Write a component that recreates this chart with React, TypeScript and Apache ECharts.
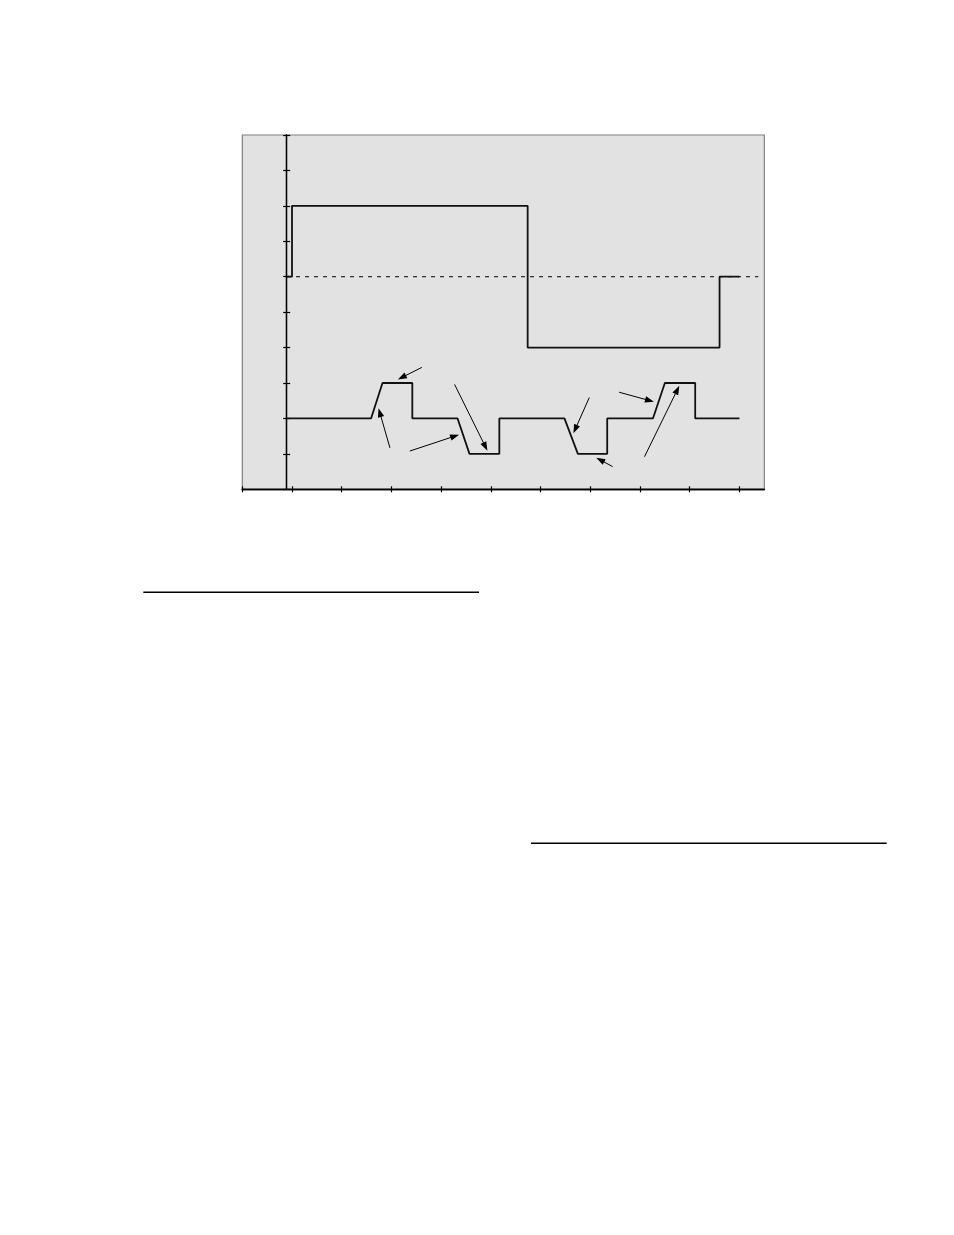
import React, { useEffect, useRef } from "react";
import * as echarts from "echarts";

// Tick values (both axes run 0..10, one unit per tick)
const xTicks = [0, 1, 2, 3, 4, 5, 6, 7, 8, 9, 10];
const yTicks = [0, 1, 2, 3, 4, 5, 6, 7, 8, 9, 10];

// Upper step trace [x, y]
const upperTrace: number[][] = [
  [0.9, 6], [1.0, 6], [1.0, 8], [5.74, 8], [5.74, 4],
  [9.6, 4], [9.6, 6], [10.0, 6],
];

// Lower trace with ramps [x, y]
const lowerTrace: number[][] = [
  [0.9, 2], [2.59, 2], [2.82, 3], [3.42, 3], [3.42, 2],
  [4.33, 2], [4.57, 1], [5.17, 1], [5.17, 2], [6.48, 2],
  [6.75, 1], [7.34, 1], [7.34, 2], [8.26, 2], [8.5, 3],
  [9.11, 3], [9.11, 2], [10.0, 2],
];

// Dashed reference level
const refLevel: number[][] = [
  [0.9, 6], [10.38, 6],
];

// Annotation arrows [xFrom, yFrom, xTo, yTo]
const arrows: number[][] = [
  [3.61, 3.44, 3.13, 3.1],
  [2.97, 1.17, 2.74, 2.29],
  [3.37, 1.08, 4.36, 1.54],
  [4.27, 2.96, 4.93, 1.09],
  [6.98, 2.59, 6.66, 1.58],
  [7.45, 0.64, 7.12, 0.89],
  [7.58, 2.74, 8.28, 2.47],
  [8.09, 0.92, 8.79, 2.92],
];

export default function App() {
  const ref = useRef<HTMLDivElement>(null);

  useEffect(() => {
    if (!ref.current) return;
    const chart = echarts.init(ref.current, undefined, { renderer: "svg" });

    const baseX = {
      type: "value",
      min: 0,
      max: 10.5,
      interval: 1,
      position: "bottom",
      axisLine: { onZero: false, lineStyle: { color: "#000", width: 1.3 } },
      axisLabel: { show: false },
      splitLine: { show: false },
    };
    const baseY = {
      type: "value",
      min: 0,
      max: 10,
      interval: 1,
      position: "left",
      offset: -44.4,
      axisLine: { show: true, onZero: false, lineStyle: { color: "#000", width: 1.3 } },
      axisLabel: { show: false },
      splitLine: { show: false },
    };

    chart.setOption({
      animation: false,
      grid: {
        left: 242.3,
        right: 954 - 764.3,
        top: 135,
        bottom: 1235 - 489.3,
        show: true,
        backgroundColor: "#e2e2e2",
        borderColor: "#808080",
        borderWidth: 1.2,
      },
      xAxis: [
        {
          ...baseX,
          axisTick: { show: true, inside: false, length: 3, customValues: xTicks, lineStyle: { color: "#000", width: 1.2 } },
        },
        {
          ...baseX,
          axisTick: { show: true, inside: true, length: 3, customValues: xTicks, lineStyle: { color: "#000", width: 1.2 } },
        },
      ],
      yAxis: [
        {
          ...baseY,
          axisTick: { show: true, inside: false, length: 3.5, customValues: yTicks, lineStyle: { color: "#000", width: 1.2 } },
        },
        {
          ...baseY,
          axisTick: { show: true, inside: true, length: 3.5, customValues: yTicks, lineStyle: { color: "#000", width: 1.2 } },
        },
      ],
      graphic: [
        {
          type: "line",
          shape: { x1: 143.3, y1: 592.3, x2: 479, y2: 592.3 },
          style: { stroke: "#000", lineWidth: 1.4 },
        },
        {
          type: "line",
          shape: { x1: 531, y1: 843.3, x2: 886.7, y2: 843.3 },
          style: { stroke: "#000", lineWidth: 1.4 },
        },
      ],
      series: [
        {
          type: "line",
          data: refLevel,
          symbol: "none",
          lineStyle: { color: "#000", width: 1, type: [4, 5] },
          z: 2,
        },
        {
          type: "line",
          data: upperTrace,
          symbol: "none",
          lineStyle: { color: "#111", width: 1.8 },
          z: 3,
        },
        {
          type: "line",
          data: lowerTrace,
          symbol: "none",
          lineStyle: { color: "#111", width: 1.8 },
          z: 3,
        },
        {
          type: "custom",
          coordinateSystem: "cartesian2d",
          data: arrows,
          encode: { x: [0, 2], y: [1, 3] },
          clip: false,
          z: 4,
          renderItem: (params: any, api: any) => {
            const p1 = api.coord([api.value(0), api.value(1)]);
            const p2 = api.coord([api.value(2), api.value(3)]);
            const dx = p2[0] - p1[0];
            const dy = p2[1] - p1[1];
            const len = Math.sqrt(dx * dx + dy * dy) || 1;
            const ux = dx / len;
            const uy = dy / len;
            const headLen = 9;
            const halfW = 3.2;
            const bx = p2[0] - ux * headLen;
            const by = p2[1] - uy * headLen;
            const nx = -uy;
            const ny = ux;
            return {
              type: "group",
              children: [
                {
                  type: "line",
                  shape: { x1: p1[0], y1: p1[1], x2: bx + ux * 2, y2: by + uy * 2 },
                  style: { stroke: "#000", lineWidth: 1 },
                },
                {
                  type: "polygon",
                  shape: {
                    points: [
                      [p2[0], p2[1]],
                      [bx + nx * halfW, by + ny * halfW],
                      [bx - nx * halfW, by - ny * halfW],
                    ],
                  },
                  style: { fill: "#000" },
                },
              ],
            };
          },
        },
      ],
    });

    return () => chart.dispose();
  }, []);

  return (
    <div
      ref={ref}
      style={{ position: "absolute", left: 0, top: 0, width: 954, height: 1235 }}
    />
  );
}
